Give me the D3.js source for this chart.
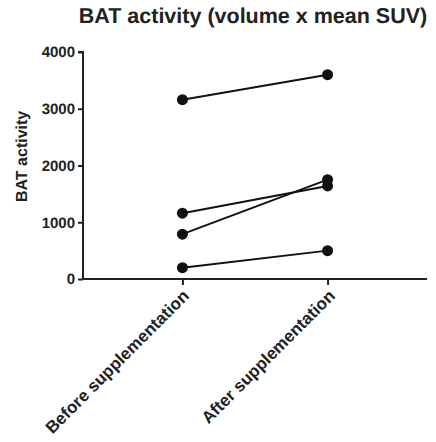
<!DOCTYPE html>
<html>
<head>
<meta charset="utf-8">
<script src="https://cdn.jsdelivr.net/npm/d3@7"></script>
<style>
  body { margin: 0; background: #fff; }
  text { font-family: "Liberation Sans", Arial, sans-serif; font-weight: bold; fill: #222; text-rendering: geometricPrecision; }
</style>
</head>
<body>
<svg id="chart" width="436" height="442"></svg>
<script>
// data
const groups = ['Before supplementation', 'After supplementation'];
const before = [3160, 1160, 790, 200];
const after = [3600, 1640, 1750, 500];
const yTicks = [0, 1000, 2000, 3000, 4000];

const svg = d3.select('#chart');
const margins = {left: 83, right: 9, top: 52, bottom: 163};
const width = 436 - margins.left - margins.right;
const height = 442 - margins.top - margins.bottom;

const chart = svg.append('g')
    .attr('transform', `translate(${margins.left}, ${margins.top})`);

const xScale = d3.scalePoint()
    .domain(groups)
    .range([0, width])
    .padding(0.685);

const yScale = d3.scaleLinear()
    .domain([0, 4000])
    .range([height, 0]);

// paired lines
const pairs = before.map((b, i) => [[groups[0], b], [groups[1], after[i]]]);
const line = d3.line()
    .x(d => xScale(d[0]))
    .y(d => yScale(d[1]));

chart.selectAll('.pair')
    .data(pairs)
    .enter()
    .append('path')
    .attr('class', 'pair')
    .attr('d', line)
    .attr('fill', 'none')
    .attr('stroke', '#111')
    .attr('stroke-width', 2);

chart.selectAll('.dot')
    .data(pairs.flat())
    .enter()
    .append('circle')
    .attr('class', 'dot')
    .attr('cx', d => xScale(d[0]))
    .attr('cy', d => yScale(d[1]))
    .attr('r', 5.5)
    .attr('fill', '#111');

// axes
const yAxis = d3.axisLeft(yScale)
    .tickValues(yTicks)
    .tickFormat(d3.format('d'))
    .tickSize(5)
    .tickPadding(3);
const yG = chart.append('g').call(yAxis);
yG.select('.domain').attr('d', `M-5,0H0V${height}`);

const xAxis = d3.axisBottom(xScale).tickSize(6).tickFormat('');
const xG = chart.append('g')
    .attr('transform', `translate(0, ${height})`)
    .call(xAxis);
xG.select('.domain').attr('d', `M0,0H${width}`);

[yG, xG].forEach(g => {
    g.selectAll('.domain, line').attr('stroke', '#222').attr('stroke-width', 2);
});
yG.selectAll('text').attr('font-size', null).style('font-size', '15px').attr('fill', '#222');
yG.attr('font-size', null);

// rotated category labels
chart.selectAll('.xlabel')
    .data(groups)
    .enter()
    .append('text')
    .attr('class', 'xlabel')
    .attr('text-anchor', 'end')
    .attr('transform', d => `translate(${Math.round(xScale(d)) + 8}, ${height + 18}) rotate(-45)`)
    .style('font-size', '17px')
    .text(d => d);

// y label
svg.append('text')
    .attr('transform', `translate(27, ${margins.top + height * 0.46}) rotate(-90)`)
    .attr('text-anchor', 'middle')
    .style('font-size', '16px')
    .text('BAT activity');

// title
svg.append('text')
    .attr('x', 253)
    .attr('y', 23)
    .attr('text-anchor', 'middle')
    .style('font-size', '21.5px')
    .text('BAT activity (volume x mean SUV)');
</script>
</body>
</html>
